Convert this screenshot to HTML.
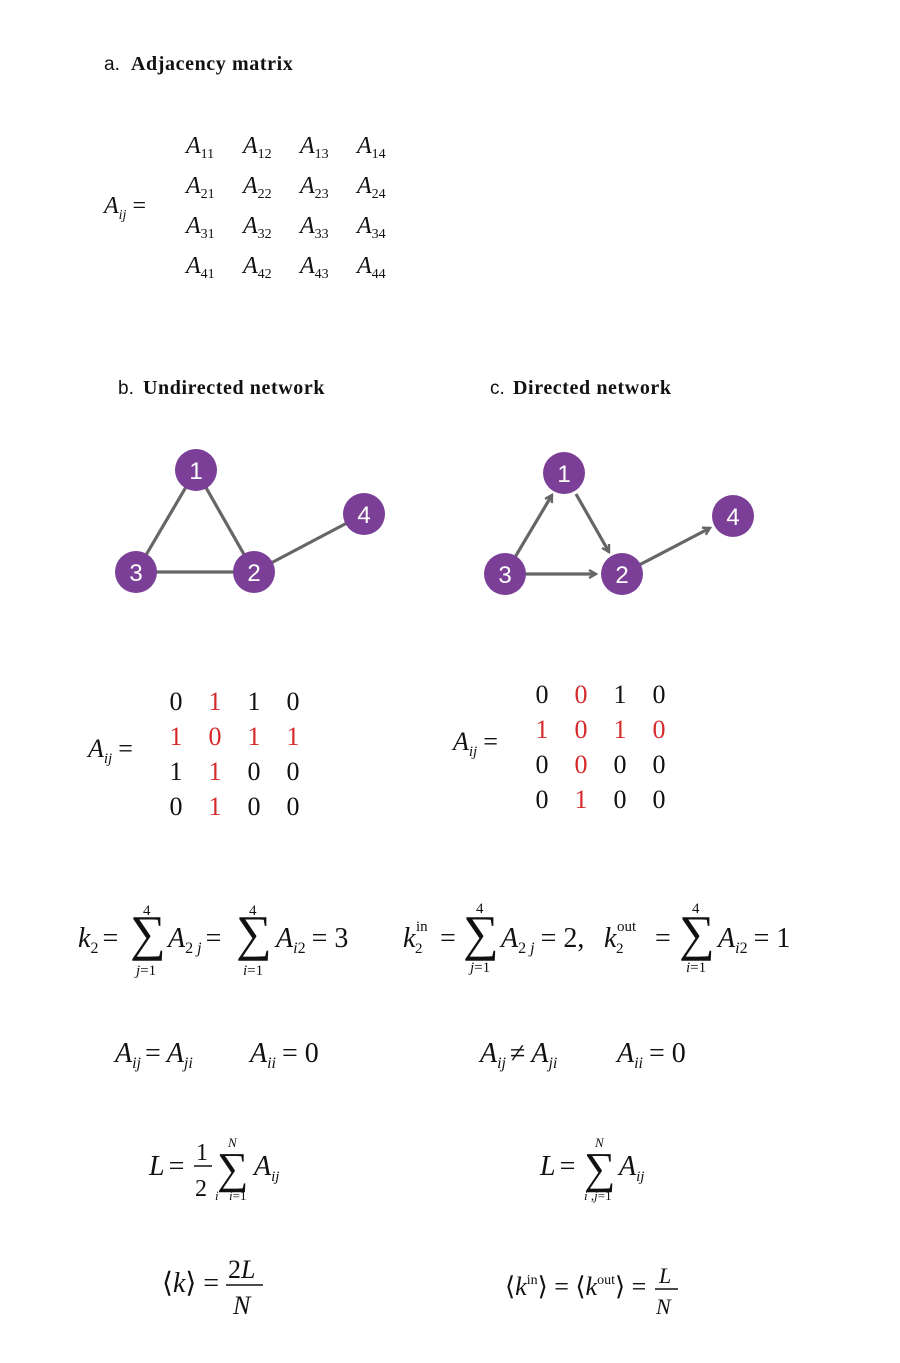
<!DOCTYPE html>
<html><head><meta charset="utf-8"><style>
body{margin:0;background:#fff}
svg{display:block}
.m{font-family:"Liberation Serif",serif;fill:#111}
.i{font-style:italic}
.t{font-family:"Liberation Serif",serif;font-weight:bold;font-size:20px;letter-spacing:0.6px;fill:#111}
.l{font-family:"Liberation Sans",sans-serif;font-size:19px;fill:#111}
.n{font-family:"Liberation Sans",sans-serif;font-size:24px;fill:#fff;text-anchor:middle}
.r{fill:#d42a2a}
</style></head><body>
<svg width="900" height="1363" xmlns="http://www.w3.org/2000/svg">
<defs><marker id="ar" markerWidth="10" markerHeight="10" refX="8" refY="5" orient="auto" markerUnits="userSpaceOnUse"><path d="M1,1 L8,5 L1,9" fill="none" stroke="#666" stroke-width="2.4"/></marker></defs>
<text x="104" y="70" class="l">a.</text><text x="131" y="70" class="t">Adjacency matrix</text>
<g class="m" font-size="24">
<text x="104" y="213"><tspan class="i">A</tspan><tspan class="i" font-size="14" dy="6">ij</tspan><tspan dy="-6" dx="6">=</tspan></text>
<g class="i">
<text x="186" y="153">A<tspan font-size="14" dy="5" font-style="normal">11</tspan></text>
<text x="243" y="153">A<tspan font-size="14" dy="5" font-style="normal">12</tspan></text>
<text x="300" y="153">A<tspan font-size="14" dy="5" font-style="normal">13</tspan></text>
<text x="357" y="153">A<tspan font-size="14" dy="5" font-style="normal">14</tspan></text>
<text x="186" y="193">A<tspan font-size="14" dy="5" font-style="normal">21</tspan></text>
<text x="243" y="193">A<tspan font-size="14" dy="5" font-style="normal">22</tspan></text>
<text x="300" y="193">A<tspan font-size="14" dy="5" font-style="normal">23</tspan></text>
<text x="357" y="193">A<tspan font-size="14" dy="5" font-style="normal">24</tspan></text>
<text x="186" y="233">A<tspan font-size="14" dy="5" font-style="normal">31</tspan></text>
<text x="243" y="233">A<tspan font-size="14" dy="5" font-style="normal">32</tspan></text>
<text x="300" y="233">A<tspan font-size="14" dy="5" font-style="normal">33</tspan></text>
<text x="357" y="233">A<tspan font-size="14" dy="5" font-style="normal">34</tspan></text>
<text x="186" y="273">A<tspan font-size="14" dy="5" font-style="normal">41</tspan></text>
<text x="243" y="273">A<tspan font-size="14" dy="5" font-style="normal">42</tspan></text>
<text x="300" y="273">A<tspan font-size="14" dy="5" font-style="normal">43</tspan></text>
<text x="357" y="273">A<tspan font-size="14" dy="5" font-style="normal">44</tspan></text>
</g></g>
<text x="118" y="394" class="l">b.</text><text x="143" y="394" class="t">Undirected network</text>
<text x="490" y="394" class="l">c.</text><text x="513" y="394" class="t">Directed network</text>
<g stroke="#666" stroke-width="3.2" fill="none">
<line x1="196" y1="470" x2="136" y2="572"/><line x1="196" y1="470" x2="254" y2="572"/>
<line x1="136" y1="572" x2="254" y2="572"/><line x1="254" y1="572" x2="364" y2="514"/>
<line x1="505" y1="574" x2="552" y2="495" marker-end="url(#ar)"/>
<line x1="576" y1="494" x2="609" y2="552" marker-end="url(#ar)"/>
<line x1="505" y1="574" x2="596" y2="574" marker-end="url(#ar)"/>
<line x1="622" y1="574" x2="710" y2="528" marker-end="url(#ar)"/>
</g>
<g fill="#7b3f98">
<circle cx="196" cy="470" r="21"/><circle cx="254" cy="572" r="21"/><circle cx="136" cy="572" r="21"/><circle cx="364" cy="514" r="21"/>
<circle cx="564" cy="473" r="21"/><circle cx="622" cy="574" r="21"/><circle cx="505" cy="574" r="21"/><circle cx="733" cy="516" r="21"/>
</g>
<g class="n">
<text x="196" y="479">1</text><text x="254" y="581">2</text><text x="136" y="581">3</text><text x="364" y="523">4</text>
<text x="564" y="482">1</text><text x="622" y="583">2</text><text x="505" y="583">3</text><text x="733" y="525">4</text>
</g>
<g class="m" font-size="26" text-anchor="middle">
<text x="176" y="710">0</text><text x="215" y="710" class="r">1</text><text x="254" y="710">1</text><text x="293" y="710">0</text>
<text x="176" y="745" class="r">1</text><text x="215" y="745" class="r">0</text><text x="254" y="745" class="r">1</text><text x="293" y="745" class="r">1</text>
<text x="176" y="780">1</text><text x="215" y="780" class="r">1</text><text x="254" y="780">0</text><text x="293" y="780">0</text>
<text x="176" y="815">0</text><text x="215" y="815" class="r">1</text><text x="254" y="815">0</text><text x="293" y="815">0</text>
<text x="542" y="703">0</text><text x="581" y="703" class="r">0</text><text x="620" y="703">1</text><text x="659" y="703">0</text>
<text x="542" y="738" class="r">1</text><text x="581" y="738" class="r">0</text><text x="620" y="738" class="r">1</text><text x="659" y="738" class="r">0</text>
<text x="542" y="773">0</text><text x="581" y="773" class="r">0</text><text x="620" y="773">0</text><text x="659" y="773">0</text>
<text x="542" y="808">0</text><text x="581" y="808" class="r">1</text><text x="620" y="808">0</text><text x="659" y="808">0</text>
</g>
<g class="m" font-size="26">
<text x="88" y="757"><tspan class="i">A</tspan><tspan class="i" font-size="15" dy="6">ij</tspan><tspan dy="-6" dx="6">=</tspan></text>
<text x="453" y="750"><tspan class="i">A</tspan><tspan class="i" font-size="15" dy="6">ij</tspan><tspan dy="-6" dx="6">=</tspan></text>
</g>
<g class="m" font-size="28">
<text x="78" y="947"><tspan class="i">k</tspan><tspan font-size="16" dy="6">2</tspan><tspan dy="-6" dx="4">=</tspan></text>
<text x="130" y="950" font-size="50">∑</text><text x="143" y="915" font-size="15">4</text><text x="136" y="975" font-size="15" class="i">j<tspan font-style="normal">=1</tspan></text>
<text x="168" y="947"><tspan class="i">A</tspan><tspan font-size="16" dy="6">2<tspan class="i"> j</tspan></tspan><tspan dy="-6" dx="4">=</tspan></text>
<text x="236" y="950" font-size="50">∑</text><text x="249" y="915" font-size="15">4</text><text x="243" y="975" font-size="15" class="i">i<tspan font-style="normal">=1</tspan></text>
<text x="276" y="947"><tspan class="i">A</tspan><tspan font-size="16" dy="6"><tspan class="i">i</tspan>2</tspan><tspan dy="-6" dx="6">= 3</tspan></text>

<text x="403" y="947"><tspan class="i">k</tspan></text><text x="416" y="931" font-size="15">in</text><text x="415" y="953" font-size="15">2</text>
<text x="440" y="947">=</text>
<text x="463" y="950" font-size="50">∑</text><text x="476" y="913" font-size="15">4</text><text x="470" y="972" font-size="15" class="i">j<tspan font-style="normal">=1</tspan></text>
<text x="501" y="947"><tspan class="i">A</tspan><tspan font-size="16" dy="6">2<tspan class="i"> j</tspan></tspan><tspan dy="-6" dx="6">= 2,</tspan></text>
<text x="604" y="947" class="i">k</text><text x="617" y="931" font-size="15">out</text><text x="616" y="953" font-size="15">2</text>
<text x="655" y="947">=</text>
<text x="679" y="950" font-size="50">∑</text><text x="692" y="913" font-size="15">4</text><text x="686" y="972" font-size="15" class="i">i<tspan font-style="normal">=1</tspan></text>
<text x="718" y="947"><tspan class="i">A</tspan><tspan font-size="16" dy="6"><tspan class="i">i</tspan>2</tspan><tspan dy="-6" dx="6">= 1</tspan></text>

<text x="115" y="1062"><tspan class="i">A</tspan><tspan class="i" font-size="16" dy="6">ij</tspan><tspan dy="-6" dx="4">=</tspan><tspan dx="6" class="i">A</tspan><tspan class="i" font-size="16" dy="6">ji</tspan></text>
<text x="250" y="1062"><tspan class="i">A</tspan><tspan class="i" font-size="16" dy="6">ii</tspan><tspan dy="-6" dx="6">= 0</tspan></text>
<text x="480" y="1062"><tspan class="i">A</tspan><tspan class="i" font-size="16" dy="6">ij</tspan><tspan dy="-6" dx="4">≠</tspan><tspan dx="6" class="i">A</tspan><tspan class="i" font-size="16" dy="6">ji</tspan></text>
<text x="617" y="1062"><tspan class="i">A</tspan><tspan class="i" font-size="16" dy="6">ii</tspan><tspan dy="-6" dx="6">= 0</tspan></text>

<text x="149" y="1175"><tspan class="i">L</tspan><tspan dx="4">=</tspan></text>
<text x="196" y="1160" font-size="24">1</text><line x1="194" y1="1166" x2="212" y2="1166" stroke="#111" stroke-width="1.5"/><text x="195" y="1196" font-size="24">2</text>
<text x="217" y="1183" font-size="44">∑</text><text x="228" y="1147" font-size="13" class="i">N</text>
<text x="215" y="1200" font-size="13" class="i">i</text><text x="229" y="1200" font-size="13" class="i">i<tspan font-style="normal">=1</tspan></text>
<text x="254" y="1175"><tspan class="i">A</tspan><tspan class="i" font-size="15" dy="6">ij</tspan></text>

<text x="540" y="1175"><tspan class="i">L</tspan><tspan dx="4">=</tspan></text>
<text x="584" y="1183" font-size="44">∑</text><text x="595" y="1147" font-size="13" class="i">N</text>
<text x="584" y="1200" font-size="13" class="i">i ,j<tspan font-style="normal">=1</tspan></text>
<text x="619" y="1175"><tspan class="i">A</tspan><tspan class="i" font-size="15" dy="6">ij</tspan></text>

<text x="162" y="1292">⟨<tspan class="i">k</tspan>⟩ =</text>
<text x="228" y="1278" font-size="26">2<tspan class="i">L</tspan></text><line x1="226" y1="1285" x2="263" y2="1285" stroke="#111" stroke-width="1.5"/><text x="233" y="1314" font-size="26" class="i">N</text>
<text x="505" y="1295" font-size="26">⟨<tspan class="i">k</tspan><tspan font-size="14" dy="-11">in</tspan><tspan dy="11">⟩ = ⟨</tspan><tspan class="i">k</tspan><tspan font-size="14" dy="-11">out</tspan><tspan dy="11">⟩ =</tspan></text>
<text x="659" y="1283" font-size="22" class="i">L</text><line x1="655" y1="1289" x2="678" y2="1289" stroke="#111" stroke-width="1.5"/><text x="656" y="1314" font-size="22" class="i">N</text>
</g>
</svg>
</body></html>
